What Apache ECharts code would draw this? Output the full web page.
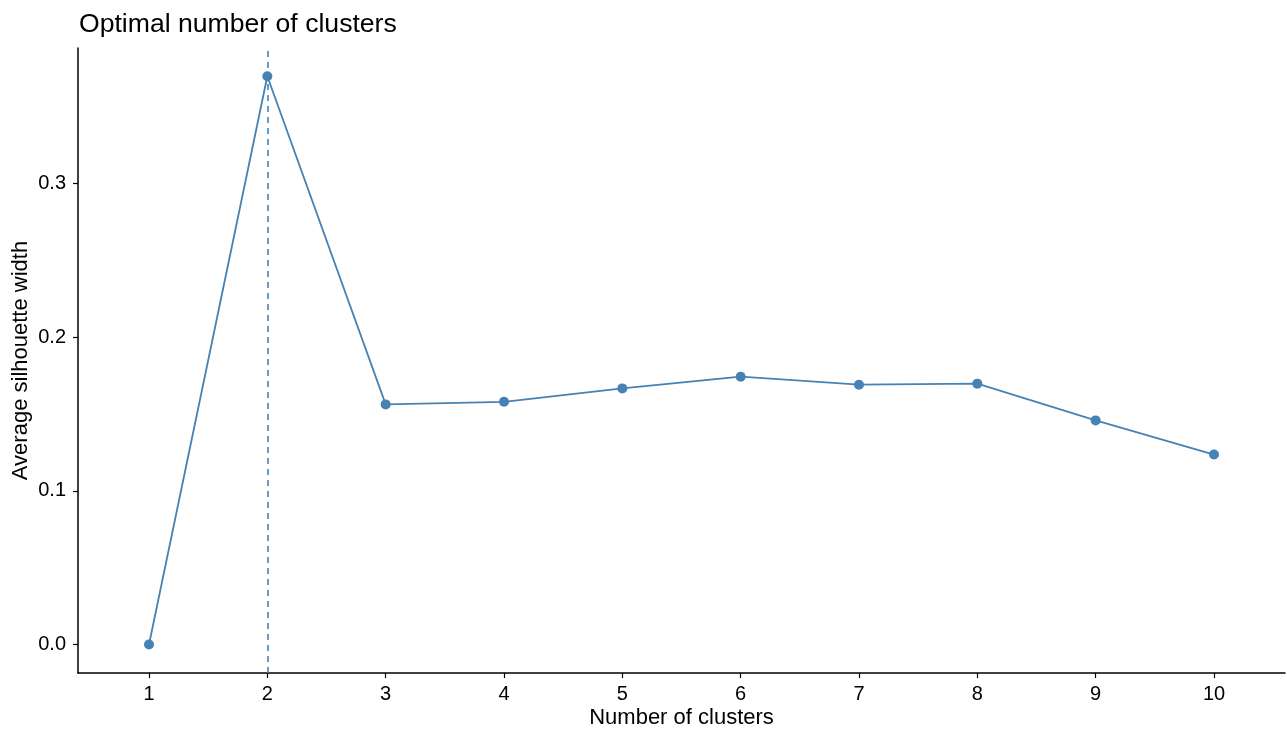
<!DOCTYPE html>
<html>
<head>
<meta charset="utf-8">
<script src="https://cdn.jsdelivr.net/npm/echarts@6/dist/echarts.min.js"></script>
<style>
html,body{margin:0;padding:0;background:#fff;}
#chart{width:1287px;height:732px;}
</style>
</head>
<body>
<div id="chart"></div>
<script>
const clusters = [1, 2, 3, 4, 5, 6, 7, 8, 9, 10];
const silhouette = [0.0, 0.3696, 0.1562, 0.1579, 0.1666, 0.1742, 0.1690, 0.1697, 0.1458, 0.1236];
const xTicks = [1, 2, 3, 4, 5, 6, 7, 8, 9, 10];
const yTicks = [0.0, 0.1, 0.2, 0.3];
const optimalK = 2;

const FONT = 'Liberation Sans, Arial, Helvetica, sans-serif';
const COLOR = '#4682B4';

const chart = echarts.init(document.getElementById('chart'), null, {renderer: 'canvas'});
chart.setOption({
  animation: false,
  backgroundColor: '#ffffff',
  title: {
    text: 'Optimal number of clusters',
    left: 74,
    top: 6,
    textStyle: {fontFamily: FONT, fontSize: 26.6, fontWeight: 'normal', color: '#000'}
  },
  grid: {left: 78, right: 2, top: 48, bottom: 59, containLabel: false, outerBoundsMode: 'none'},
  xAxis: {
    type: 'value',
    min: 0.4,
    max: 10.6,
    name: 'Number of clusters',
    nameLocation: 'middle',
    nameGap: 34,
    nameMoveOverlap: false,
    nameTextStyle: {fontFamily: FONT, fontSize: 22, color: '#000'},
    axisLine: {onZero: false, lineStyle: {color: '#000', width: 1.5}},
    axisTick: {show: true, length: 5, lineStyle: {color: '#000', width: 1.2}, customValues: xTicks},
    axisLabel: {fontFamily: FONT, fontSize: 20, color: '#000', margin: 11, customValues: xTicks},
    splitLine: {show: false}
  },
  yAxis: {
    type: 'value',
    min: -0.0185,
    max: 0.388,
    name: 'Average silhouette width',
    nameLocation: 'middle',
    nameGap: 46,
    nameMoveOverlap: false,
    nameRotate: 90,
    nameTextStyle: {fontFamily: FONT, fontSize: 22, color: '#000'},
    axisLine: {show: true, onZero: false, lineStyle: {color: '#000', width: 1.5}},
    axisTick: {show: true, length: 5, lineStyle: {color: '#000', width: 1.2}, customValues: yTicks},
    axisLabel: {fontFamily: FONT, fontSize: 20, color: '#000', margin: 12, customValues: yTicks,
      formatter: v => Number(v).toFixed(1)},
    splitLine: {show: false}
  },
  series: [{
    type: 'line',
    data: clusters.map((c, i) => [c, silhouette[i]]),
    symbol: 'circle',
    symbolSize: 10,
    itemStyle: {color: COLOR},
    lineStyle: {color: COLOR, width: 1.8},
    markLine: {
      silent: true,
      symbol: ['none', 'none'],
      label: {show: false},
      lineStyle: {color: COLOR, type: [6, 5], width: 1.6},
      data: [{xAxis: optimalK}]
    }
  }]
});
</script>
</body>
</html>
